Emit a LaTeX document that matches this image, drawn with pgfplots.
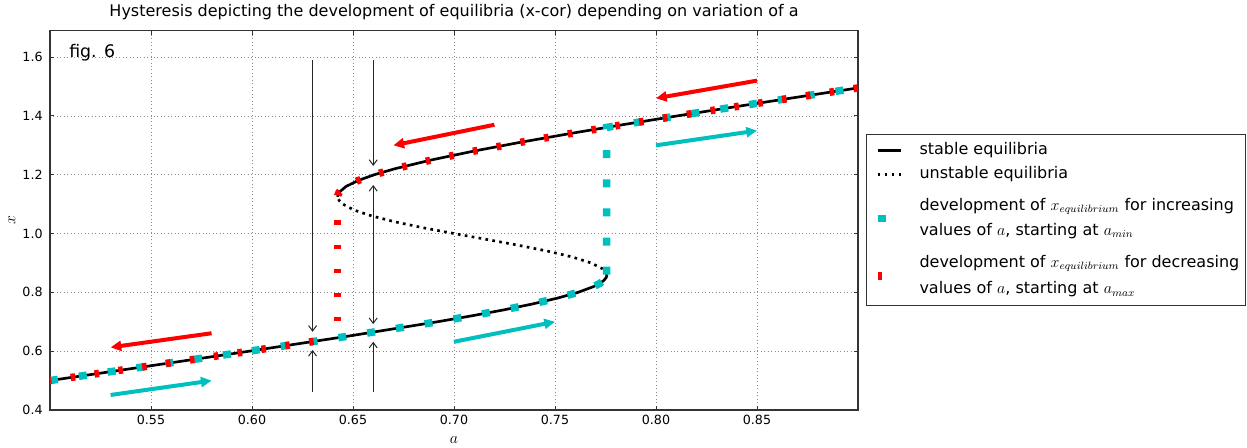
\documentclass[border=0pt]{standalone}
\usepackage{fontspec}
\setmainfont{DejaVu Sans}
\usepackage{pgfplots}
\pgfplotsset{compat=1.18}
\usetikzlibrary{arrows.meta}

\definecolor{mplcyan}{rgb}{0,0.75,0.75}
\definecolor{mplred}{rgb}{1,0,0}

% dash patterns that make the rectangles along the two paths
\tikzset{
  incpath/.style={mplcyan, line width=5.6pt, dash pattern=on 6pt off 15.86pt},
  decpath/.style={mplred, line width=5.6pt, dash pattern=on 3.4pt off 14.68pt},
  bigarrow/.style={line width=3pt, -{Triangle[length=8pt,width=7.5pt]}},
  thinarrow/.style={black!85, line width=0.75pt, -{Straight Barb[length=4pt,width=6pt]}},
}
% legend sample holding only one dash
\pgfplotsset{
  onedash/.style={legend image code/.code={\path[draw=none] (0pt,0pt) -- (22.5pt,0pt); \draw[##1] (3.75pt,0pt) -- (10pt,0pt);}},
}

\begin{document}
\begin{tikzpicture}
\begin{axis}[
  at={(37.5pt,28.5pt)}, anchor=south west,
  scale only axis, width=606pt, height=284.5pt,
  xmin=0.5, xmax=0.9, ymin=0.4, ymax=1.69,
  xtick={0.55,0.6,0.65,0.7,0.75,0.8,0.85},
  ytick={0.4,0.6,0.8,1.0,1.2,1.4,1.6},
  /pgf/number format/assume math mode=true,
  x tick label style={/pgf/number format/.cd, fixed, fixed zerofill, precision=2, /tikz/.cd},
  y tick label style={/pgf/number format/.cd, fixed, fixed zerofill, precision=1, /tikz/.cd, xshift=-2pt},
  tick label style={font=\fontsize{9.5}{11}\selectfont},
  tick align=inside, major tick length=3.2pt,
  tick style={black!80, line width=0.75pt},
  axis line style={black!80, line width=1pt},
  grid=major,
  major grid style={black!45, line width=0.6pt, dotted},
  title={Hysteresis depicting the development of equilibria (x-cor) depending on variation of a},
  title style={at={(axis description cs:0.5,1)}, anchor=base, yshift=4.5pt, inner sep=0pt, font=\fontsize{12}{14}\selectfont},
  xlabel={$a$}, ylabel={$x$},
  xlabel style={at={(axis description cs:0.5,-0.0804)}, anchor=center, font=\fontsize{12}{14}\selectfont},
  ylabel style={at={(axis description cs:-0.047,0.5)}, anchor=center, font=\fontsize{12}{14}\selectfont},
  legend style={at={(axis description cs:1.0099,0.7277)}, anchor=north west,
    draw=black!80, line width=0.75pt, fill=white,
    font=\fontsize{12}{14.5}\selectfont,
    inner xsep=4.5pt, inner ysep=3pt, row sep=0pt, column sep=12.75pt,
    nodes={inner sep=0pt, text depth=}},
  legend cell align=left,
  legend image code/.code={\path[draw=none] (0pt,0pt) -- (22.5pt,0pt); \draw[#1] (3.75pt,0pt) -- (21.5pt,0pt);},
]

% stable equilibria, lower branch
\addplot[black, line width=2pt] coordinates {
  (0.4999,0.50) (0.5495,0.55) (0.5987,0.60) (0.6466,0.65) (0.6918,0.70)
  (0.7086,0.72) (0.7243,0.74) (0.7385,0.76) (0.7510,0.78) (0.7614,0.80)
  (0.7692,0.82) (0.7721,0.83) (0.7741,0.84) (0.7753,0.85) (0.7756,0.855) (0.7756,0.86)
};
\addlegendentry{\rule[-5.7pt]{0pt}{18pt}stable equilibria}
% stable equilibria, upper branch
\addplot[black, line width=2pt, forget plot] coordinates {
  (0.6424,1.125) (0.6425,1.13) (0.6431,1.14) (0.6465,1.16) (0.6524,1.18)
  (0.6605,1.20) (0.6705,1.22) (0.6886,1.25) (0.7095,1.28) (0.7326,1.31)
  (0.7574,1.34) (0.7834,1.37) (0.8104,1.40) (0.8381,1.43) (0.8663,1.46)
  (0.8950,1.49) (0.9046,1.50)
};
% unstable equilibria
\addplot[black, line width=2pt, dash pattern=on 2pt off 3.25pt] coordinates {
  (0.7756,0.86) (0.7754,0.865) (0.7750,0.87) (0.7736,0.88) (0.7679,0.90)
  (0.7587,0.92) (0.7465,0.94) (0.7320,0.96) (0.7162,0.98) (0.7000,1.00)
  (0.6845,1.02) (0.6707,1.04) (0.6592,1.06) (0.6505,1.08) (0.6450,1.10)
  (0.6434,1.11) (0.6425,1.12) (0.6424,1.125)
};
\addlegendentry{\rule[-5.7pt]{0pt}{18pt}unstable equilibria}

% increasing a
\addplot[incpath, onedash] coordinates {
  (0.5,0.5001) (0.5495,0.55) (0.5987,0.60) (0.6466,0.65) (0.6918,0.70)
  (0.7086,0.72) (0.7243,0.74) (0.7385,0.76) (0.7510,0.78) (0.7614,0.80)
  (0.7692,0.82) (0.7721,0.83) (0.7741,0.84) (0.7753,0.85) (0.7756,0.86)
};
\addlegendentry{\begin{tabular}{@{}l@{}}\rule{0pt}{18.1pt}development of $x_{equilibrium}$ for increasing\\[4.25pt]values of $a$, starting at $a_{min}$\rule[-11.5pt]{0pt}{0pt}\end{tabular}}
\addplot[incpath, forget plot] coordinates {
  (0.7756,0.86) (0.7756,1.361) (0.7834,1.37) (0.8104,1.40) (0.8381,1.43)
  (0.8663,1.46) (0.8950,1.49) (0.9,1.4952)
};

% decreasing a
\addplot[decpath, onedash] coordinates {
  (0.9,1.4952) (0.8950,1.49) (0.8663,1.46) (0.8381,1.43) (0.8104,1.40)
  (0.7834,1.37) (0.7574,1.34) (0.7326,1.31) (0.7095,1.28) (0.6886,1.25)
  (0.6705,1.22) (0.6605,1.20) (0.6524,1.18) (0.6465,1.16) (0.6431,1.14)
  (0.6425,1.13) (0.6424,1.125)
};
\addlegendentry{\begin{tabular}{@{}l@{}}\rule{0pt}{12.3pt}development of $x_{equilibrium}$ for decreasing\\[5.45pt]values of $a$, starting at $a_{max}$\rule[-5.7pt]{0pt}{0pt}\end{tabular}}
\addplot[decpath, forget plot] coordinates {(0.6424,1.0446) (0.6424,0.70)};
\addplot[decpath, forget plot] coordinates {
  (0.6305,0.6333) (0.5987,0.60) (0.5495,0.55) (0.5,0.5001)
};

% direction arrows
\addplot[mplred, bigarrow, forget plot] coordinates {(0.58,0.661) (0.53,0.613)};
\addplot[mplred, bigarrow, forget plot] coordinates {(0.72,1.37) (0.67,1.30)};
\addplot[mplred, bigarrow, forget plot] coordinates {(0.85,1.52) (0.80,1.46)};
\addplot[mplcyan, bigarrow, forget plot] coordinates {(0.53,0.451) (0.58,0.50)};
\addplot[mplcyan, bigarrow, forget plot] coordinates {(0.70,0.632) (0.75,0.70)};
\addplot[mplcyan, bigarrow, forget plot] coordinates {(0.80,1.30) (0.85,1.35)};

% stability arrows
\addplot[thinarrow, forget plot] coordinates {(0.63,1.59) (0.63,0.666)};
\addplot[thinarrow, forget plot] coordinates {(0.63,0.462) (0.63,0.604)};
\addplot[thinarrow, forget plot] coordinates {(0.66,1.59) (0.66,1.23)};
\addplot[thinarrow, forget plot] coordinates {(0.66,1.06) (0.66,1.165)};
\addplot[thinarrow, forget plot] coordinates {(0.66,1.06) (0.66,0.692)};
\addplot[thinarrow, forget plot] coordinates {(0.66,0.462) (0.66,0.632)};

\node[anchor=base west, inner sep=0pt, font=\fontsize{13}{15}\selectfont]
  at (axis description cs:0.0235,0.930) {fig. 6};
\end{axis}
\pgfresetboundingbox
\path[use as bounding box] (0pt,0pt) rectangle (935.25pt,336pt);
\end{tikzpicture}
\end{document}
